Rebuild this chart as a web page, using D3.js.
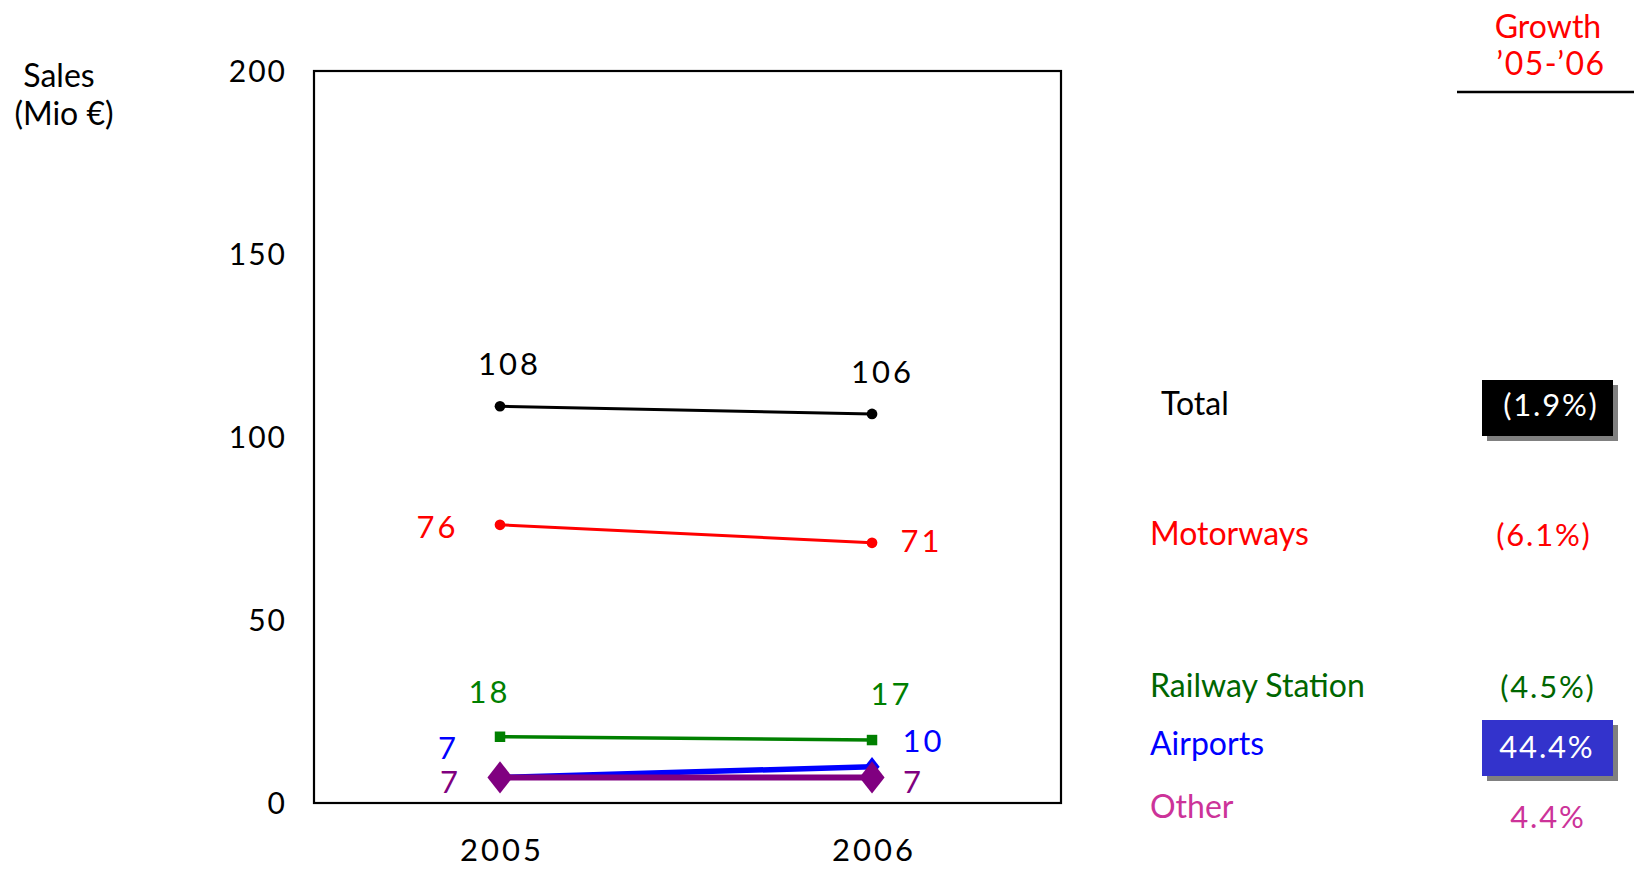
<!DOCTYPE html>
<html><head><meta charset="utf-8">
<script src="https://cdn.jsdelivr.net/npm/d3@7"></script>
<style>
html,body{margin:0;padding:0;background:#fff;}
svg{display:block;font-family:Lato,"Noto Sans",sans-serif;}
</style></head>
<body>
<svg id="chart" width="1634" height="869"></svg>
<script>
// ---- data ----
const years = [2005, 2006];
const seriesNames = ["Total", "Motorways", "Railway Station", "Airports", "Other"];
const totalValues = [108.4, 106.3];
const motorwaysValues = [76.0, 71.1];
const railwayValues = [18.1, 17.2];
const airportsValues = [7.0, 9.9];
const otherValues = [7.0, 7.0];
const valueLabels = [["108","106"],["76","71"],["18","17"],["7","10"],["7","7"]];
const growthValues = [-1.9, -6.1, -4.5, 44.4, 4.4];
const yTicks = [0, 50, 100, 150, 200];

// ---- styles / layout ----
const lineColors = ["#000000", "#ff0000", "#008000", "#0000ff", "#800080"];
const nameColors = ["#000000", "#ff0000", "#006600", "#0000ff", "#cc3399"];
const growthColors = ["#ffffff", "#ff0000", "#006600", "#ffffff", "#cc3399"];
const boxFill = ["#000000", null, null, "#3333cc", null];
const lineWidths = [3, 3, 3.5, 5.5, 6];
const markerShapes = ["circle", "circle", "square", "diamond", "diamond"];
const markerSizes = [90, 90, 110, 110, 300];
// label offsets relative to point: [dx, dy] for each year (centred text)
const labelOffsets = [
  [[8, -31], [9, -31]],
  [[-64, 13], [48, 9]],
  [[-12, -34], [18, -35]],
  [[-53, -18], [50, -15]],
  [[-51, 16], [40, 16]]
];
const rightLabelBaselines = [415, 545, 697, 755, 818];
const growthCenters = [1550, 1543, 1547, 1546, 1547];

const svg = d3.select("#chart");
const plot = {left: 314, top: 71, right: 1061, bottom: 803};

const x = d3.scaleLinear().domain([2004.5, 2006.508]).range([plot.left, plot.right]);
const y = d3.scaleLinear().domain([0, 200]).range([plot.bottom, plot.top]);

// frame
svg.append("rect")
  .attr("x", plot.left).attr("y", plot.top)
  .attr("width", plot.right - plot.left).attr("height", plot.bottom - plot.top)
  .attr("fill", "none").attr("stroke", "#000").attr("stroke-width", 2.2);

// y axis (labels only)
const yAxis = d3.axisLeft(y).tickValues(yTicks).tickSize(0).tickPadding(27).tickFormat(d3.format("d"));
const gy = svg.append("g").attr("transform", `translate(${plot.left},0)`).call(yAxis);
gy.select(".domain").remove();
gy.selectAll("text").attr("font-size", 30).attr("fill", "#000")
  .attr("font-family", "Lato,'Noto Sans',sans-serif").attr("letter-spacing", 2).attr("dy", "0.36em");

// x axis labels
const xAxis = d3.axisBottom(x).tickValues(years).tickSize(0).tickPadding(36).tickFormat(d3.format("d"));
const gx = svg.append("g").attr("transform", `translate(0,${plot.bottom})`).call(xAxis);
gx.select(".domain").remove();
gx.selectAll("text").attr("font-size", 31).attr("fill", "#000")
  .attr("font-family", "Lato,'Noto Sans',sans-serif").attr("letter-spacing", 3).attr("dx", 1.5);

// axis title
svg.append("text").attr("x", 59).attr("y", 87).attr("text-anchor", "middle")
  .attr("font-size", 32).text("Sales");
svg.append("text").attr("x", 64).attr("y", 125).attr("text-anchor", "middle")
  .attr("font-size", 32).text("(Mio €)");

// series
const allSeries = [totalValues, motorwaysValues, railwayValues, airportsValues, otherValues];
const line = d3.line().x((d, i) => x(years[i])).y(d => y(d));
const symbolTypes = {circle: d3.symbolCircle, square: d3.symbolSquare, diamond: d3.symbolDiamond};

allSeries.forEach((vals, s) => {
  const g = svg.append("g");
  g.append("path").datum(vals).attr("d", line)
    .attr("fill", "none").attr("stroke", lineColors[s]).attr("stroke-width", lineWidths[s]);
  g.selectAll("path.m").data(vals).join("path").attr("class", "m")
    .attr("transform", (d, i) => `translate(${x(years[i])},${y(d)})` + (markerShapes[s] === "diamond" ? " scale(1.35,1)" : ""))
    .attr("d", d3.symbol().type(symbolTypes[markerShapes[s]]).size(markerSizes[s]))
    .attr("fill", lineColors[s]);
});

// value labels (drawn after lines)
allSeries.forEach((vals, s) => {
  vals.forEach((v, i) => {
    const o = labelOffsets[s][i];
    svg.append("text")
      .attr("x", x(years[i]) + o[0]).attr("y", y(v) + o[1])
      .attr("text-anchor", "middle").attr("font-size", 31).attr("letter-spacing", 3).attr("dx", 1.5)
      .attr("fill", lineColors[s]).text(valueLabels[s][i]);
  });
});

// growth header
svg.append("text").attr("x", 1548).attr("y", 38).attr("text-anchor", "middle")
  .attr("font-size", 32).attr("fill", "#ff0000").text("Growth");
svg.append("text").attr("x", 1551).attr("y", 75).attr("text-anchor", "middle")
  .attr("font-size", 32).attr("letter-spacing", 1.5).attr("fill", "#ff0000").text("\u201905-\u201906");
svg.append("line").attr("x1", 1457).attr("x2", 1634).attr("y1", 92).attr("y2", 92)
  .attr("stroke", "#000").attr("stroke-width", 2.5);

// right labels
const fmtGrowth = v => v < 0 ? `(${Math.abs(v).toFixed(1)}%)` : `${v.toFixed(1)}%`;
seriesNames.forEach((name, s) => {
  const by = rightLabelBaselines[s];
  svg.append("text").attr("x", s === 0 ? 1161 : 1150).attr("y", by)
    .attr("font-size", 32).attr("fill", nameColors[s]).text(name);
  if (boxFill[s]) {
    svg.append("rect").attr("x", 1487).attr("y", by - 30).attr("width", 131).attr("height", 56).attr("fill", "#808080");
    svg.append("rect").attr("x", 1482).attr("y", by - 35).attr("width", 131).attr("height", 56).attr("fill", boxFill[s]);
  }
  svg.append("text").attr("x", growthCenters[s]).attr("y", by + (s === 4 ? 10 : (s === 3 ? 3 : 1)))
    .attr("text-anchor", "middle").attr("font-size", 31).attr("letter-spacing", 1.8).attr("dx", 0.9)
    .attr("fill", growthColors[s]).text(fmtGrowth(growthValues[s]));
});
</script>
</body></html>
